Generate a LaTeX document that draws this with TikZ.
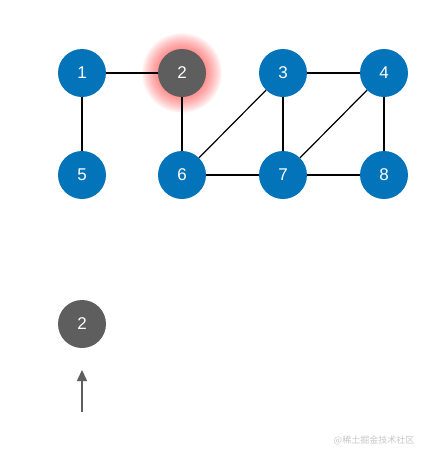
\documentclass[tikz,border=0pt]{standalone}
\usepackage{fontspec}
\setmainfont{Liberation Sans}
\newfontfamily\cjk{Noto Sans CJK SC}
\usetikzlibrary{arrows.meta}
\definecolor{nodeblue}{HTML}{0474BA}
\definecolor{nodegray}{HTML}{5E5E5E}
\definecolor{glowred}{HTML}{FF3B3B}
\begin{document}
\begin{tikzpicture}[x=1pt,y=-1pt,
  vnode/.style={circle,fill=nodeblue,minimum size=48pt,inner sep=0pt,text=white,font=\fontsize{17}{17}\selectfont},
  gnode/.style={vnode,fill=nodegray},
  edge/.style={line width=1.2pt,black}]
\useasboundingbox[fill=white] (0,0) rectangle (424,456);
% glow around node 2
\foreach \r in {40,39,...,24}{
  \fill[glowred,opacity=0.045] (182,73) circle (\r);
}
\node[vnode] (n1) at (82,73) {1};
\node[gnode] (n2) at (182,73) {2};
\node[vnode] (n3) at (283,73) {3};
\node[vnode] (n4) at (384,73) {4};
\node[vnode] (n5) at (82,175) {5};
\node[vnode] (n6) at (182,175) {6};
\node[vnode] (n7) at (283,175) {7};
\node[vnode] (n8) at (384,175) {8};
\draw[edge] (n1) -- (n2);
\draw[edge] (n1) -- (n5);
\draw[edge] (n2) -- (n6);
\draw[edge] (n3) -- (n4);
\draw[edge] (n3) -- (n6);
\draw[edge] (n3) -- (n7);
\draw[edge] (n4) -- (n7);
\draw[edge] (n4) -- (n8);
\draw[edge] (n6) -- (n7);
\draw[edge] (n7) -- (n8);
\node[gnode] (s2) at (82,324) {2};
\coordinate (a0) at (82,412);
\coordinate (a1) at (82,370);
\draw[line width=1.5pt,nodegray,-{Triangle[length=11pt,width=10pt]}] (a0) -- (a1);
\node[text=black!22,font=\cjk\fontsize{9}{9}\selectfont] (wm) at (374,440) {@稀土掘金技术社区};
\end{tikzpicture}
\end{document}
